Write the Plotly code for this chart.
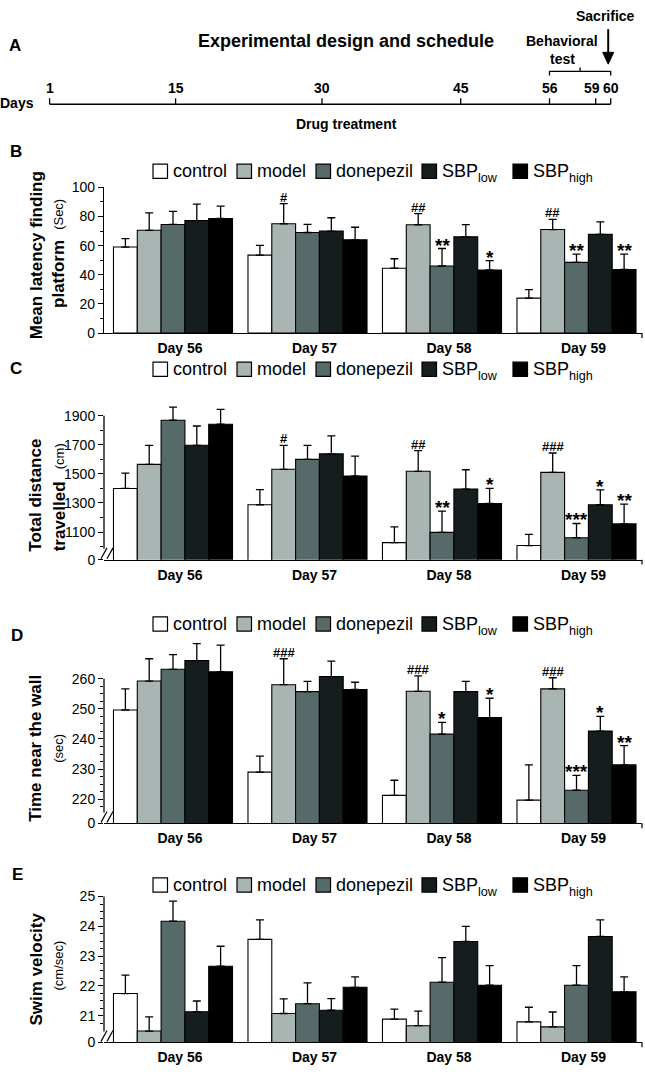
import plotly.graph_objects as go

W, H = 645, 1075
FONT = "Liberation Sans, Arial, Helvetica, sans-serif"

# ---------------- data ----------------
days = ["Day 56", "Day 57", "Day 58", "Day 59"]
groups = ["control", "model", "donepezil", "SBP<sub>low</sub>", "SBP<sub>high</sub>"]
group_colors = ["#ffffff", "#a9b5b3", "#566a69", "#161d1e", "#000000"]

# B: mean latency finding platform (sec); rows follow `groups`
latency_mean = [
    [59.0, 53.5, 44.5, 24.0],
    [70.5, 75.0, 74.3, 71.0],
    [74.5, 69.0, 46.0, 48.5],
    [77.2, 70.0, 66.0, 67.7],
    [78.6, 64.0, 43.3, 43.6],
]
latency_err = [
    [5.8, 6.7, 6.5, 5.8],
    [12.0, 13.8, 7.6, 7.0],
    [9.0, 5.6, 12.0, 5.7],
    [11.3, 9.1, 8.4, 8.6],
    [8.5, 8.6, 6.4, 10.6],
]
latency_sig = [
    ["", "", "", ""],
    ["", "#", "##", "##"],
    ["", "", "**", "**"],
    ["", "", "", ""],
    ["", "", "*", "**"],
]

# C: total distance travelled (cm)
distance_mean = [
    [1400, 1288, 1027, 1007],
    [1566, 1532, 1518, 1511],
    [1870, 1600, 1098, 1061],
    [1697, 1638, 1396, 1288],
    [1842, 1486, 1297, 1156],
]
distance_err = [
    [105, 104, 109, 77],
    [131, 165, 143, 133],
    [90, 97, 146, 98],
    [133, 124, 133, 102],
    [103, 136, 103, 136],
]
distance_sig = [
    ["", "", "", ""],
    ["", "#", "##", "###"],
    ["", "", "**", "***"],
    ["", "", "", "*"],
    ["", "", "*", "**"],
]

# D: time near the wall (sec)
wall_mean = [
    [249.6, 229.0, 221.3, 219.7],
    [259.2, 258.0, 255.8, 256.6],
    [263.1, 255.7, 241.6, 223.0],
    [266.0, 260.7, 255.7, 242.6],
    [262.3, 256.4, 247.1, 231.4],
]
wall_err = [
    [7.0, 5.3, 5.0, 11.7],
    [7.4, 8.6, 5.1, 3.7],
    [4.9, 3.4, 3.9, 4.9],
    [5.6, 5.1, 3.4, 4.9],
    [8.8, 2.4, 6.4, 6.4],
]
wall_sig = [
    ["", "", "", ""],
    ["", "###", "###", "###"],
    ["", "", "*", "***"],
    ["", "", "", "*"],
    ["", "", "*", "**"],
]

# E: swim velocity (cm/sec)
velocity_mean = [
    [21.74, 23.56, 20.88, 20.79],
    [20.48, 21.07, 20.66, 20.62],
    [24.17, 21.40, 22.12, 22.02],
    [21.13, 21.18, 23.49, 23.66],
    [22.66, 21.95, 22.02, 21.80],
]
velocity_err = [
    [0.62, 0.66, 0.34, 0.49],
    [0.48, 0.49, 0.49, 0.50],
    [0.68, 0.70, 0.83, 0.66],
    [0.36, 0.39, 0.51, 0.56],
    [0.67, 0.35, 0.66, 0.50],
]
velocity_sig = [["", "", "", ""] for _ in range(5)]

# Panel A schedule (schematic, not to scale)
schedule_days = [1, 15, 30, 45, 56, 59, 60]

# ---------------- layout helpers ----------------
def PX(x):
    return x / W


def PY(y):
    return 1 - y / H


AX_L, AX_R = 104, 642
XRANGE = [-0.513, 3.487]
BARGAP = 0.115

panels = [
    dict(letter="B", mean=latency_mean, err=latency_err, sig=latency_sig,
         top=182, bot=330, rng=[0, 100], tickvals=[0, 20, 40, 60, 80, 100],
         ticktext=["0", "20", "40", "60", "80", "100"], axis_top=100,
         minor=dict(tick0=10, dtick=20), broken=False,
         title=("Mean latency finding", 251, "platform", 270, "(Sec)", 210),
         legend_y=165.5, letter_xy=(16, 146)),
    dict(letter="C", mean=distance_mean, err=distance_err, sig=distance_sig,
         top=400.7, bot=560, rng=[910, 1990],
         tickvals=[910, 1100, 1300, 1500, 1700, 1900],
         ticktext=["0", "1100", "1300", "1500", "1700", "1900"], axis_top=1900,
         minor=dict(tick0=1000, dtick=100), broken=True,
         title=("Total distance", 495, "travelled", 516, "(cm)", 455),
         legend_y=366.5, letter_xy=(16, 366)),
    dict(letter="D", mean=wall_mean, err=wall_err, sig=wall_sig,
         top=641, bot=827.7, rng=[212, 273],
         tickvals=[212, 220, 230, 240, 250, 260],
         ticktext=["0", "220", "230", "240", "250", "260"], axis_top=260,
         minor=dict(tick0=217.5, dtick=2.5), broken=True,
         title=("Time near the wall", 752, "", 0, "(sec)", 752),
         legend_y=625, letter_xy=(17, 637)),
    dict(letter="E", mean=velocity_mean, err=velocity_err, sig=velocity_sig,
         top=902, bot=1050, rng=[20.1, 25],
         tickvals=[20.1, 21, 22, 23, 24, 25],
         ticktext=["0", "21", "22", "23", "24", "25"], axis_top=25,
         minor=dict(tick0=20.75, dtick=0.25), broken=True,
         title=("Swim velocity", 976, "", 0, "(cm/sec)", 972),
         legend_y=890, letter_xy=(17, 880)),
]

fig = go.Figure()
shapes = []
annotations = []
layout_axes = {}


def add_text(text, x, y, size, bold=False, angle=0, xanchor="center"):
    annotations.append(dict(
        x=PX(x), y=PY(y), xref="paper", yref="paper", text=text,
        showarrow=False, xanchor=xanchor, yanchor="middle", textangle=angle,
        font=dict(family=FONT, size=size, color="black",
                  weight="bold" if bold else "normal"),
    ))


def add_line(x0, y0, x1, y1, width=1.3):
    shapes.append(dict(type="line", xref="paper", yref="paper",
                       x0=PX(x0), y0=PY(y0), x1=PX(x1), y1=PY(y1),
                       line=dict(color="black", width=width)))


bar_w_cat = (1 - BARGAP) / len(groups)

for p_i, p in enumerate(panels):
    s = "" if p_i == 0 else str(p_i + 1)
    xa, ya = "x" + s, "y" + s
    for g_i, g in enumerate(groups):
        fig.add_trace(go.Bar(
            x=days, y=p["mean"][g_i], xaxis=xa, yaxis=ya, name=g,
            offsetgroup=str(g_i), showlegend=False,
            marker=dict(color=group_colors[g_i], line=dict(color="black", width=1.1)),
            error_y=dict(type="data", array=p["err"][g_i], arrayminus=[0] * len(days),
                         symmetric=False, color="black", thickness=1.3, width=4),
            hoverinfo="skip",
        ))
        # significance marks above the error bars
        for d_i in range(len(days)):
            txt = p["sig"][g_i][d_i]
            if not txt:
                continue
            star = "*" in txt
            annotations.append(dict(
                x=d_i + (g_i - 2) * bar_w_cat, xref=xa,
                y=p["mean"][g_i][d_i] + p["err"][g_i][d_i], yref=ya,
                text=txt, showarrow=False, yanchor="bottom", xanchor="center",
                yshift=-9 if star else -3,
                font=dict(family=FONT, size=19 if star else 13, color="black",
                          weight="bold"),
            ))

    # minor ticks only up to the top labelled tick
    mvals = []
    v = p["minor"]["tick0"]
    while v <= p["axis_top"] + 1e-9:
        if v > p["rng"][0] and all(abs(v - t) > 1e-6 for t in p["tickvals"]):
            mvals.append(round(v, 4))
        v += p["minor"]["dtick"]

    layout_axes["xaxis" + s] = dict(
        domain=[PX(AX_L), PX(AX_R)], anchor=ya, type="category",
        categoryorder="array", categoryarray=days, range=XRANGE,
        showline=True, linecolor="black", linewidth=1.3, ticks="",
        showgrid=False, zeroline=False, fixedrange=True,
        tickfont=dict(family=FONT, size=14, color="black", weight="bold"),
        ticklabelshift=7, ticklabelstandoff=2,
    )
    layout_axes["yaxis" + s] = dict(
        domain=[PY(p["bot"]), PY(p["top"])], anchor=xa, range=p["rng"],
        tickmode="array", tickvals=p["tickvals"], ticktext=p["ticktext"],
        ticks="outside", ticklen=5, tickwidth=1.2, tickcolor="black",
        showline=not p["broken"], linecolor="black", linewidth=1.3,
        showgrid=False, zeroline=False, fixedrange=True,
        tickfont=dict(family=FONT, size=14, color="black"),
        minor=dict(tickmode="array", tickvals=mvals,
                   ticks="outside", ticklen=3, tickwidth=1, tickcolor="black",
                   showgrid=False),
    )

    bot = p["bot"]
    ppu = (p["bot"] - p["top"]) / (p["rng"][1] - p["rng"][0])
    if p["broken"]:
        top_px = bot - (p["axis_top"] - p["rng"][0]) * ppu
        add_line(AX_L, bot - 11, AX_L, top_px)
        for dx in (-3, 3):
            add_line(AX_L + dx, bot - 1, AX_L + dx + 6, bot - 12, width=1.2)
    # small tick at right end of x axis
    add_line(AX_R, bot, AX_R, bot + 5, width=1.2)

    # legend (manual, one per panel)
    ly = p["legend_y"]
    box_x = [153, 237, 316, 422, 513]
    for g_i, g in enumerate(groups):
        bx = box_x[g_i]
        shapes.append(dict(type="rect", xref="paper", yref="paper",
                           x0=PX(bx), x1=PX(bx + 14.5), y0=PY(ly + 7.5), y1=PY(ly - 7),
                           fillcolor=group_colors[g_i], line=dict(color="black", width=1.2)))
        if "<sub>" in g:
            main, sub = g.replace("</sub>", "").split("<sub>")
            add_text(main, bx + 18, ly, 18, xanchor="left")
            add_text(sub, bx + 54, ly + 7, 12.6, xanchor="left")
        else:
            add_text(g, bx + 18, ly, 18, xanchor="left")

    # panel letter
    lx, lyy = p["letter_xy"]
    add_text(p["letter"], lx, lyy, 17, bold=True)

    # y-axis title (two rotated lines)
    t1, t1y, t2, t2y, unit, unity = p["title"]
    add_text(t1, 36, t1y, 17, bold=True, angle=-90)
    if t2:
        add_text(t2, 59, t2y, 17, bold=True, angle=-90)
    add_text(unit, 59, unity, 13, angle=-90)

# ---------------- Panel A: schedule ----------------
schedule_px = [49.6, 175.6, 322, 460.7, 549.5, 595.7, 610.7]  # schematic positions
TL_Y = 97.7
add_line(schedule_px[0], TL_Y, schedule_px[-1], TL_Y, width=1.5)
for d, xp in zip(schedule_days, schedule_px):
    add_line(xp, TL_Y, xp, TL_Y - 6)
    add_text(str(d), xp - (4 if d == 59 else 0), 81, 14, bold=True)
# behavioral test bracket (day 56 to 60)
bx0, bx1 = schedule_px[4], schedule_px[6]
shapes.append(dict(type="path", xref="paper", yref="paper",
                   path="M %f %f L %f %f L %f %f L %f %f" % (
                       PX(bx0), PY(68.5), PX(bx0), PY(64.3), PX(bx1), PY(64.3), PX(bx1), PY(68.5)),
                   line=dict(color="black", width=1.3)))
add_line((bx0 + bx1) / 2, 64.3, (bx0 + bx1) / 2, 60.5)

add_text("A", 15, 38, 17, bold=True)
add_text("Experimental design and schedule", 346, 34, 18, bold=True)
add_text("Days", 17, 96, 14, bold=True)
add_text("Drug treatment", 346, 118, 14, bold=True)
add_text("Behavioral", 562, 34, 14, bold=True)
add_text("test", 562, 52, 14, bold=True)
add_text("Sacrifice", 605, 8, 14, bold=True)

# sacrifice arrow (shaft + filled head)
ARX = schedule_px[-1] - 2.5
add_line(ARX, 21.5, ARX, 47, width=2)
shapes.append(dict(type="path", xref="paper", yref="paper",
                   path="M %f %f L %f %f L %f %f Z" % (
                       PX(ARX - 5.5), PY(45), PX(ARX + 5.5), PY(45), PX(ARX), PY(57)),
                   fillcolor="black", line=dict(color="black", width=1)))

fig.update_layout(
    width=W, height=H, margin=dict(l=0, r=0, t=0, b=0),
    paper_bgcolor="white", plot_bgcolor="white",
    barmode="group", bargap=BARGAP, bargroupgap=0,
    showlegend=False, shapes=shapes, annotations=annotations,
    font=dict(family=FONT, color="black"),
    **layout_axes,
)

fig.write_html(
    "out.html",
    config={"displayModeBar": False},
    post_script="document.body.style.margin='0';document.body.style.overflow='hidden';",
)
